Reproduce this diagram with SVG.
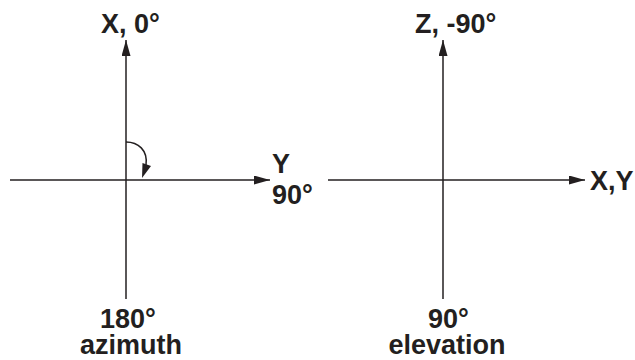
<svg xmlns="http://www.w3.org/2000/svg" width="635" height="360" viewBox="0 0 635 360">
<style>
.t{font-family:"Liberation Sans",Arial,sans-serif;font-weight:bold;font-size:27px;fill:#231f20}
.ax{stroke:#231f20;stroke-width:1.5;fill:none}
</style>
<defs>
<marker id="ah" markerUnits="userSpaceOnUse" markerWidth="17" markerHeight="10" refX="16" refY="4.5" orient="auto">
<path d="M0,0 L16,4.5 L0,9 z" fill="#231f20"/>
</marker>
</defs>
<rect width="635" height="360" fill="#fff"/>
<g id="connectors">
<line class="ax" x1="126" y1="299" x2="126" y2="40" marker-end="url(#ah)"/>
<line class="ax" x1="10" y1="180" x2="270" y2="180" marker-end="url(#ah)"/>
<path class="ax" d="M126,142 C138,142 148,150 146,165"/>
<polygon points="142,178 142.5,163 151,166" fill="#231f20"/>
<line class="ax" x1="443" y1="299" x2="443" y2="40" marker-end="url(#ah)"/>
<line class="ax" x1="328" y1="180" x2="585" y2="180" marker-end="url(#ah)"/>
</g>
<g id="azimuth">
<text class="t" x="101" y="33">X, 0°</text>
<text class="t" x="272" y="173">Y</text>
<text class="t" x="272" y="204">90°</text>
<text class="t" x="100" y="328">180°</text>
<text class="t" x="131" y="354" text-anchor="middle">azimuth</text>
</g>
<g id="elevation">
<text class="t" x="415" y="33">Z, -90°</text>
<text class="t" x="590" y="190">X,Y</text>
<text class="t" x="428" y="328">90°</text>
<text class="t" x="447" y="354" text-anchor="middle">elevation</text>
</g>
</svg>
